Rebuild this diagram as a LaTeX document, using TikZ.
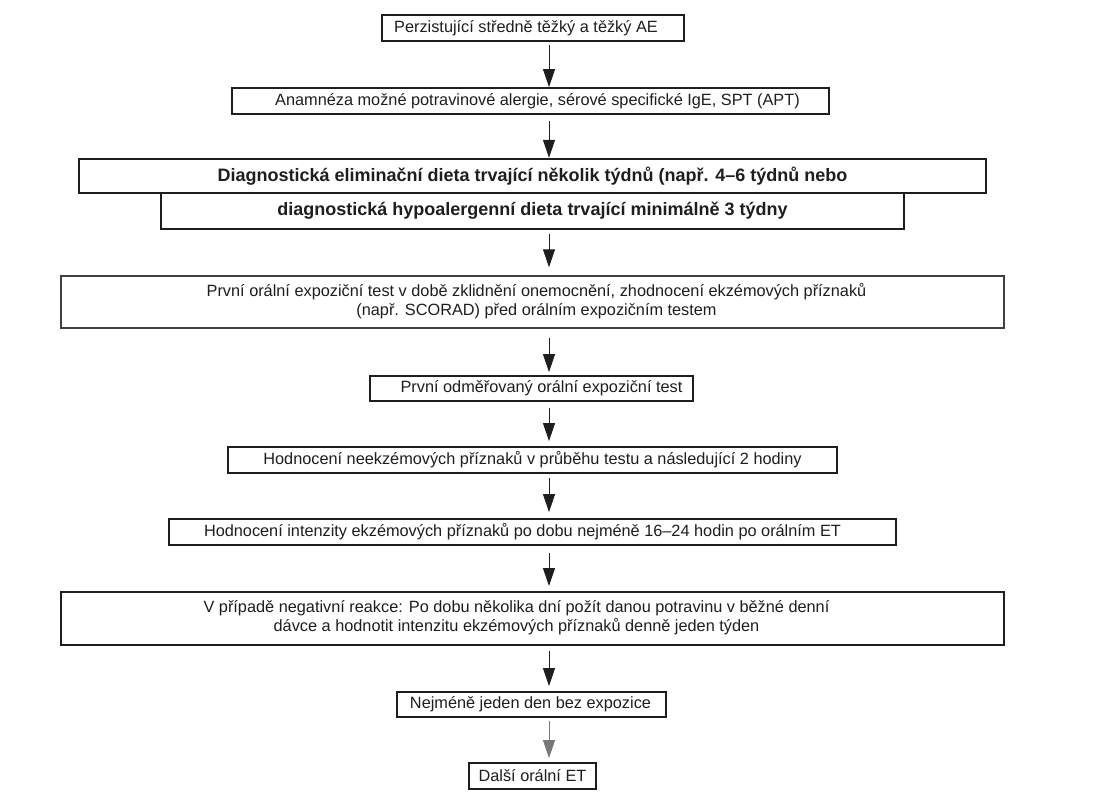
\documentclass[tikz,border=0pt]{standalone}
\usepackage{fontspec}
\setmainfont{Liberation Sans}
\usetikzlibrary{arrows.meta}
\definecolor{ink}{HTML}{1E1E1E}
\begin{document}
\begin{tikzpicture}[x=1pt,y=-1pt,
  box/.style={draw=ink, line width=1.8pt, rectangle, inner sep=0pt, anchor=center,
    font=\fontsize{16.3}{19}\selectfont, text=ink},
  boldbox/.style={box, line width=2.4pt, font=\fontsize{18}{21}\selectfont\bfseries},
  thinbox/.style={box, draw=ink!85, line width=1.5pt},
  arr/.style={draw=ink, line width=1pt, -{Triangle[length=18pt,width=12pt]}},
  lightarr/.style={arr, draw=ink!60}
]
\useasboundingbox[fill=white] (0,0) rectangle (1100,800);
\coordinate (ax) at (549,0);

\node[box, minimum width=302pt, minimum height=26pt] (b1) at (533,28)
  {Perzistující středně těžký a těžký AE\hspace*{14pt}};
\node[box, minimum width=597pt, minimum height=26pt] (b2) at (530.5,101)
  {\hspace*{14pt}Anamnéza možné potravinové alergie, sérové specifické IgE, SPT (APT)};
\node[boldbox, minimum width=907pt, minimum height=34pt] (b3a) at (532.5,176)
  {Diagnostická eliminační dieta trvající několik týdnů (např. 4–6 týdnů nebo};
\node[boldbox, minimum width=743pt, minimum height=36pt] (b3b) at (532.5,211)
  {diagnostická hypoalergenní dieta trvající minimálně 3 týdny};
\node[thinbox, minimum width=943pt, minimum height=52pt] (b4) at (532.5,302)
  {\hspace*{8pt}\begin{tabular}{@{}c@{}}První orální expoziční test v době zklidnění onemocnění, zhodnocení ekzémových příznaků\\(např. SCORAD) před orálním expozičním testem\end{tabular}};
\node[box, minimum width=323pt, minimum height=25pt] (b5) at (531.5,388.5)
  {\hspace*{20pt}První odměřovaný orální expoziční test};
\node[box, minimum width=609pt, minimum height=26pt] (b6) at (532.5,460)
  {Hodnocení neekzémových příznaků v průběhu testu a následující 2 hodiny};
\node[box, minimum width=727pt, minimum height=26pt] (b7) at (532.5,532)
  {Hodnocení intenzity ekzémových příznaků po dobu nejméně 16–24 hodin po orálním ET\hspace*{20pt}};
\node[box, line width=2pt, minimum width=943pt, minimum height=53pt] (b8) at (532.5,618.5)
  {\begin{tabular}{@{}c@{}}V případě negativní reakce: Po dobu několika dní požít danou potravinu v běžné denní\\dávce a hodnotit intenzitu ekzémových příznaků denně jeden týden\end{tabular}\hspace*{32pt}};
\node[box, minimum width=269pt, minimum height=25pt] (b9) at (531.5,704.5)
  {Nejméně jeden den bez expozice\hspace*{2pt}};
\node[box, minimum width=127pt, minimum height=26pt] (b10) at (532.5,776)
  {Další orální ET};

\draw[arr, shorten <=3pt] (b1.south -| ax) -- (b2.north -| ax);
\draw[arr, shorten <=6pt] (b2.south -| ax) -- (b3a.north -| ax);
\draw[arr, shorten <=4pt, shorten >=8pt] (b3b.south -| ax) -- (b4.north -| ax);
\draw[arr, shorten <=9pt, shorten >=3pt] (b4.south -| ax) -- (b5.north -| ax);
\draw[arr, shorten <=6pt, shorten >=5pt] (b5.south -| ax) -- (b6.north -| ax);
\draw[arr, shorten <=4pt, shorten >=6pt] (b6.south -| ax) -- (b7.north -| ax);
\draw[arr, shorten <=7pt, shorten >=5pt] (b7.south -| ax) -- (b8.north -| ax);
\draw[arr, shorten <=5pt, shorten >=5pt] (b8.south -| ax) -- (b9.north -| ax);
\draw[lightarr, shorten <=3pt, shorten >=4pt] (b9.south -| ax) -- (b10.north -| ax);
\end{tikzpicture}
\end{document}
